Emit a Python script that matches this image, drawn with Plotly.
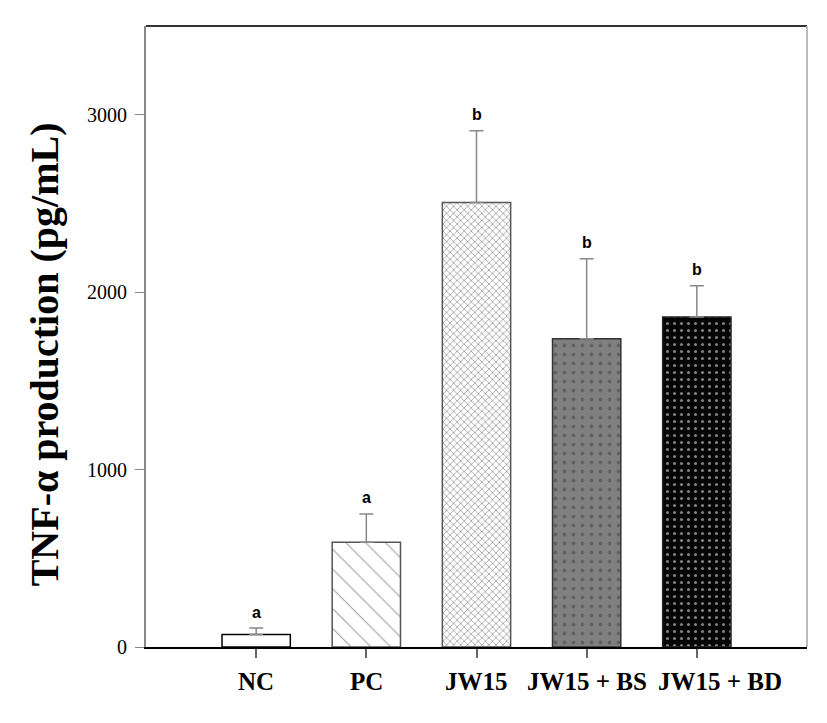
import plotly.graph_objects as go

categories = ["NC", "PC", "JW15", "JW15 + BS", "JW15 + BD"]
means = [70, 590, 2505, 1738, 1860]
errors = [37, 160, 405, 450, 176]
letters = ["a", "a", "b", "b", "b"]
y_ticks = [0, 1000, 2000, 3000]

fill_bg = ["white", "white", "white", "#808080", "#050505"]
fill_fg = ["black", "#444444", "#555555", "#c8c8c8", "#9a9a9a"]
shapes = ["", "\\", "x", ".", "."]
sizes = [8, 14, 5, 9, 7]
solid = [0.2, 0.08, 0.3, 0.15, 0.15]
label_shift = [0, 0, 0, 0, 23]

x = list(range(len(categories)))

fig = go.Figure()
fig.add_trace(go.Bar(
    x=x, y=means, width=0.62,
    marker=dict(
        color=fill_bg,
        line=dict(color=["black", "#555555", "#555555", "#333333", "#222222"], width=1.5),
        pattern=dict(shape=shapes, fgcolor=fill_fg, bgcolor=fill_bg, size=sizes,
                     solidity=solid, fillmode="overlay"),
    ),
    error_y=dict(type="data", array=errors, arrayminus=[0]*5, symmetric=False,
                 color="#888888", thickness=1.5, width=7),
    showlegend=False,
))

for xi, m, e, l in zip(x, means, errors, letters):
    fig.add_annotation(x=xi, y=m + e, text="<b>" + l + "</b>", showarrow=False,
                       yshift=16, font=dict(family="Liberation Sans", size=16, color="black"))

for xi, c, s in zip(x, categories, label_shift):
    fig.add_annotation(x=xi, y=0, yref="paper", text="<b>" + c + "</b>", showarrow=False,
                       xshift=s, yshift=-50, font=dict(family="Liberation Serif", size=25, color="black"))

fig.add_annotation(x=-0.153, y=0.5, xref="paper", yref="paper", yshift=-18,
                   text="<b>TNF-α production (pg/mL)</b>", textangle=-90, showarrow=False,
                   xanchor="center", yanchor="middle",
                   font=dict(size=40, family="Liberation Serif", color="black"))

fig.update_layout(
    width=819, height=715,
    margin=dict(l=138, r=20, t=18, b=76),
    plot_bgcolor="white", paper_bgcolor="white",
    font=dict(family="Liberation Serif", color="black"),
    xaxis=dict(range=[-1, 5], tickvals=x, ticktext=[" "] * len(x),
               showline=True, linecolor="black", linewidth=2, mirror=False,
               ticks="outside", ticklen=9, tickwidth=1.5, tickcolor="#666666",
               showgrid=False, zeroline=False),
    yaxis=dict(range=[0, 3500], tickvals=y_ticks,
               tickfont=dict(size=20, family="Liberation Serif"),
               ticklabelstandoff=4,
               showline=True, linecolor="#888888", linewidth=2,
               ticks="outside", ticklen=9, tickcolor="#888888", showgrid=False, zeroline=False,
               automargin=False),
    shapes=[
        dict(type="line", xref="paper", yref="paper", x0=0, x1=1, y0=1, y1=1,
             line=dict(color="#333333", width=2)),
        dict(type="line", xref="paper", yref="paper", x0=1, x1=1, y0=0, y1=1,
             line=dict(color="#bbbbbb", width=2)),
    ],
)

fig.write_html("out.html")
